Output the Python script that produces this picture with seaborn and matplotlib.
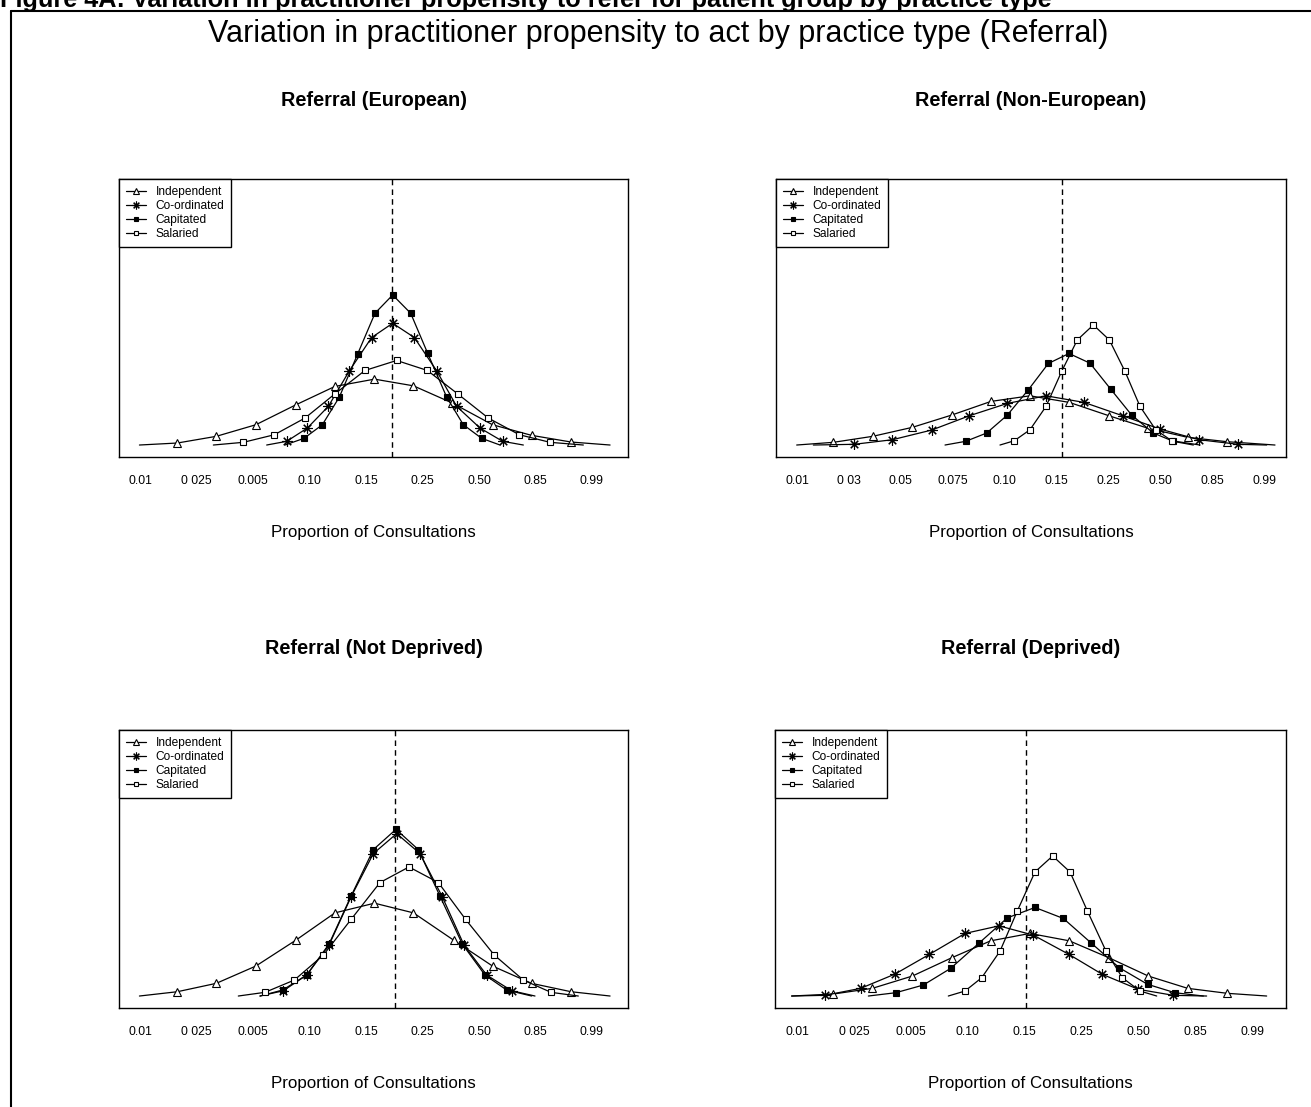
import matplotlib
matplotlib.use("Agg")
import matplotlib.pyplot as plt
from matplotlib.lines import Line2D
import seaborn as sns

sns.set_theme(style="white")
plt.rcParams['font.family'] = ['Liberation Sans', 'DejaVu Sans']
plt.rcParams['text.color'] = 'black'
plt.rcParams['axes.labelcolor'] = 'black'
plt.rcParams['xtick.color'] = 'black'
plt.rcParams['legend.labelcolor'] = 'black'

W, H = 1311, 1107

# ---------------- data (x in tick-position units, y in relative density) ----------------
series_names = ["Independent", "Co-ordinated", "Capitated", "Salaried"]

panel_titles = ["Referral (European)", "Referral (Non-European)",
                "Referral (Not Deprived)", "Referral (Deprived)"]

ticks_eu = ["0.01", "0 025", "0.005", "0.10", "0.15", "0.25", "0.50", "0.85", "0.99"]
ticks_neu = ["0.01", "0 03", "0.05", "0.075", "0.10", "0.15", "0.25", "0.50", "0.85", "0.99"]
ticks_nd = ["0.01", "0 025", "0.005", "0.10", "0.15", "0.25", "0.50", "0.85", "0.99"]
ticks_dep = ["0.01", "0 025", "0.005", "0.10", "0.15", "0.25", "0.50", "0.85", "0.99"]

ref_line = [4.454, 5.106, 4.519, 4.026]

# European
eu_ind_x = [-0.01, 0.66, 1.35, 2.05, 2.76, 3.45, 4.15, 4.84, 5.53, 6.24, 6.93, 7.63, 8.32]
eu_ind_y = [0, 0.02, 0.087, 0.203, 0.403, 0.587, 0.66, 0.593, 0.42, 0.203, 0.097, 0.03, 0]
eu_coo_x = [2.242, 2.596, 2.962, 3.333, 3.705, 4.1, 4.472, 4.855, 5.251, 5.605, 6.018, 6.419, 6.785]
eu_coo_y = [0, 0.037, 0.17, 0.387, 0.743, 1.077, 1.22, 1.077, 0.743, 0.387, 0.17, 0.037, 0]
eu_cap_x = [2.566, 2.903, 3.227, 3.528, 3.853, 4.159, 4.472, 4.791, 5.091, 5.428, 5.723, 6.047, 6.372]
eu_cap_y = [0, 0.067, 0.203, 0.48, 0.913, 1.32, 1.503, 1.32, 0.92, 0.48, 0.203, 0.067, 0]
eu_sal_x = [1.298, 1.829, 2.378, 2.92, 3.451, 3.982, 4.543, 5.086, 5.622, 6.165, 6.714, 7.257, 7.847]
eu_sal_y = [0, 0.027, 0.103, 0.27, 0.513, 0.747, 0.847, 0.747, 0.513, 0.27, 0.103, 0.027, 0]

# Non-European
neu_ind_x = [-0.006, 0.70, 1.458, 2.222, 2.98, 3.738, 4.489, 5.247, 6.012, 6.769, 7.527, 8.292, 9.21]
neu_ind_y = [0, 0.027, 0.087, 0.177, 0.3, 0.437, 0.493, 0.427, 0.293, 0.167, 0.077, 0.033, 0]
neu_coo_x = [0.315, 1.098, 1.837, 2.595, 3.32, 4.053, 4.798, 5.53, 6.275, 6.994, 7.746, 8.503, 9.05]
neu_coo_y = [0, 0.007, 0.053, 0.15, 0.293, 0.417, 0.493, 0.427, 0.293, 0.16, 0.053, 0.007, 0]
neu_cap_x = [2.852, 3.25, 3.654, 4.053, 4.457, 4.843, 5.241, 5.645, 6.044, 6.448, 6.866, 7.251, 7.637]
neu_cap_y = [0, 0.037, 0.12, 0.3, 0.553, 0.817, 0.917, 0.82, 0.56, 0.3, 0.12, 0.037, 0]
neu_sal_x = [3.911, 4.188, 4.489, 4.798, 5.099, 5.401, 5.71, 6.018, 6.32, 6.609, 6.911, 7.219, 7.765]
neu_sal_y = [0, 0.043, 0.153, 0.387, 0.737, 1.053, 1.203, 1.053, 0.737, 0.387, 0.153, 0.043, 0]

# Not Deprived
nd_ind_x = [-0.01, 0.66, 1.35, 2.05, 2.76, 3.45, 4.15, 4.84, 5.55, 6.24, 6.93, 7.63, 8.32]
nd_ind_y = [0, 0.043, 0.127, 0.3, 0.56, 0.833, 0.93, 0.833, 0.56, 0.3, 0.127, 0.043, 0]
nd_coo_x = [2.124, 2.537, 2.95, 3.345, 3.735, 4.13, 4.543, 4.956, 5.351, 5.735, 6.136, 6.578, 6.991]
nd_coo_y = [0, 0.053, 0.21, 0.51, 0.993, 1.427, 1.627, 1.427, 0.993, 0.51, 0.21, 0.053, 0]
nd_cap_x = [2.124, 2.525, 2.95, 3.345, 3.735, 4.13, 4.531, 4.926, 5.31, 5.705, 6.106, 6.49, 6.932]
nd_cap_y = [0, 0.06, 0.21, 0.52, 1.0, 1.467, 1.67, 1.467, 1.0, 0.52, 0.21, 0.06, 0]
nd_sal_x = [1.74, 2.212, 2.732, 3.245, 3.735, 4.248, 4.761, 5.28, 5.764, 6.271, 6.785, 7.274, 7.758]
nd_sal_y = [0, 0.037, 0.16, 0.41, 0.767, 1.137, 1.293, 1.137, 0.767, 0.41, 0.16, 0.037, 0]

# Deprived
dep_ind_x = [-0.094, 0.638, 1.323, 2.025, 2.716, 3.401, 4.091, 4.782, 5.478, 6.169, 6.86, 7.556, 8.247]
dep_ind_y = [0, 0.02, 0.077, 0.2, 0.383, 0.553, 0.627, 0.553, 0.383, 0.2, 0.077, 0.027, 0]
dep_coo_x = [-0.094, 0.492, 1.118, 1.721, 2.324, 2.95, 3.547, 4.15, 4.776, 5.362, 5.994, 6.608, 7.193]
dep_coo_y = [0, 0.007, 0.077, 0.22, 0.417, 0.627, 0.703, 0.61, 0.417, 0.217, 0.067, 0.007, 0]
dep_cap_x = [1.253, 1.733, 2.218, 2.698, 3.202, 3.693, 4.179, 4.677, 5.162, 5.66, 6.157, 6.637, 7.135]
dep_cap_y = [0, 0.033, 0.11, 0.277, 0.533, 0.783, 0.887, 0.777, 0.533, 0.283, 0.117, 0.033, 0]
dep_sal_x = [2.657, 2.95, 3.243, 3.565, 3.869, 4.179, 4.489, 4.794, 5.098, 5.426, 5.713, 6.023, 6.316]
dep_sal_y = [0, 0.05, 0.183, 0.45, 0.853, 1.243, 1.403, 1.243, 0.853, 0.45, 0.183, 0.05, 0]

panels = [
    (ticks_eu, [(eu_ind_x, eu_ind_y), (eu_coo_x, eu_coo_y), (eu_cap_x, eu_cap_y), (eu_sal_x, eu_sal_y)]),
    (ticks_neu, [(neu_ind_x, neu_ind_y), (neu_coo_x, neu_coo_y), (neu_cap_x, neu_cap_y), (neu_sal_x, neu_sal_y)]),
    (ticks_nd, [(nd_ind_x, nd_ind_y), (nd_coo_x, nd_coo_y), (nd_cap_x, nd_cap_y), (nd_sal_x, nd_sal_y)]),
    (ticks_dep, [(dep_ind_x, dep_ind_y), (dep_coo_x, dep_coo_y), (dep_cap_x, dep_cap_y), (dep_sal_x, dep_sal_y)]),
]

# ---------------- layout (pixels) ----------------
boxes = [(119, 628, 179, 457), (776, 1286, 179, 457),
         (119, 628, 730, 1008), (775, 1286, 730, 1008)]
tick0 = [140, 797, 140, 797]
tickstep = [56.5, 51.9, 56.5, 56.95]

styles = [
    dict(marker="^", markerfacecolor="white", markeredgecolor="black", markersize=5.5, markeredgewidth=0.8),
    dict(marker=(8, 2, 0), markerfacecolor="black", markeredgecolor="black", markersize=7.5, markeredgewidth=0.8),
    dict(marker="s", markerfacecolor="black", markeredgecolor="black", markersize=4.8, markeredgewidth=0.8),
    dict(marker="s", markerfacecolor="white", markeredgecolor="black", markersize=4.8, markeredgewidth=0.8),
]

fig = plt.figure(figsize=(W / 100, H / 100), dpi=100)
fig.patch.set_facecolor("white")

for k, (ticks, series) in enumerate(panels):
    l, r, t, b = boxes[k]
    ax = fig.add_axes([l / W, 1 - b / H, (r - l) / W, (b - t) / H])
    for (xs, ys), name, st in zip(series, series_names, styles):
        sns.lineplot(x=xs, y=ys, ax=ax, color="black", linewidth=0.9, sort=False,
                     estimator=None, label=name, markevery=slice(1, -1), **st)
    ax.axvline(ref_line[k], color="black", linestyle=(0, (4, 3)), linewidth=1.0)
    x_lo = (l - tick0[k]) / tickstep[k]
    x_hi = (r - tick0[k]) / tickstep[k]
    ax.set_xlim(x_lo, x_hi)
    ax.set_ylim(-0.12, 2.665)
    ax.set_xticks(range(len(ticks)))
    ax.set_xticklabels(ticks, fontsize=8.7, color="black")
    ax.set_yticks([])
    ax.tick_params(axis="x", length=0, pad=13, colors="black")
    for sp in ax.spines.values():
        sp.set_visible(True)
        sp.set_color("black")
        sp.set_linewidth(1.0)
    ax.set_xlabel("Proportion of Consultations", fontsize=12.2, color="black")
    ax.xaxis.set_label_coords(0.5, -0.245)
    ax.xaxis.label.set_va("top")
    ax.set_ylabel("")
    leg = ax.legend(loc="upper left", fontsize=8.6, frameon=True, fancybox=False,
                    edgecolor="black", borderaxespad=0, handlelength=1.65,
                    handletextpad=0.8, labelspacing=0.16, borderpad=0.6,
                    markerscale=0.75, framealpha=1)
    leg.get_frame().set_linewidth(1.0)
    for txt in leg.get_texts():
        txt.set_color("black")
    cx = (l + r) / 2
    fig.text(cx / W, 1 - (100 if k < 2 else 649) / H, panel_titles[k],
             ha="center", va="center", fontsize=14.3, fontweight="bold", color="black")

fig.text(658 / W, 1 - 42 / H,
         "Variation in practitioner propensity to act by practice type (Referral)",
         ha="center", va="baseline", fontsize=22, color="black")
fig.text(0 / W, 1 - 7 / H,
         "Figure 4A: Variation in practitioner propensity to refer for patient group by practice type",
         ha="left", va="baseline", fontsize=18.2, fontweight="bold", color="black")

fig.add_artist(Line2D([11 / W, 11 / W], [0, 1 - 11 / H], transform=fig.transFigure,
                      color="black", linewidth=1.5))
fig.add_artist(Line2D([11 / W, 1], [1 - 11 / H, 1 - 11 / H], transform=fig.transFigure,
                      color="black", linewidth=1.5))

fig.savefig("out.png", dpi=100)
